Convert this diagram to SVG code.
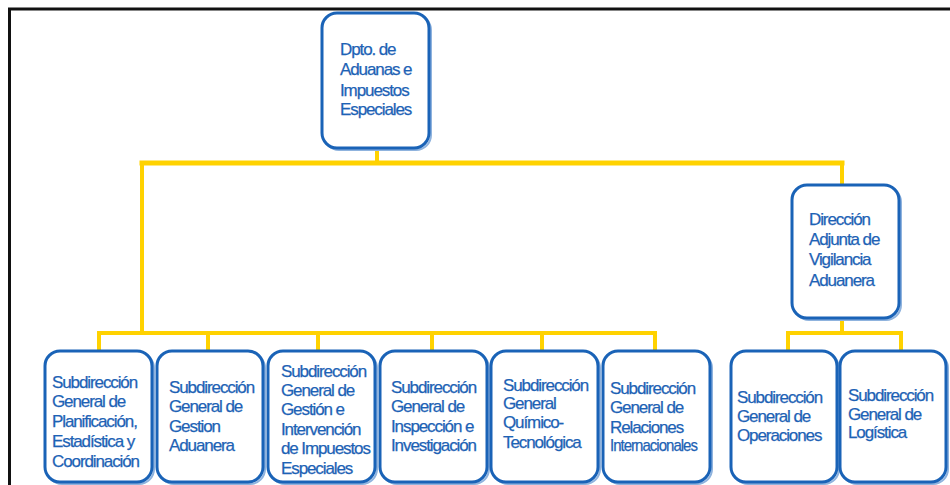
<svg xmlns="http://www.w3.org/2000/svg" width="950" height="485" viewBox="0 0 950 485">
<style>
.bg{fill:#ffffff}
.frame{stroke:#111111;stroke-width:3;fill:none}
.box{fill:#ffffff;stroke:#1a63b7;stroke-width:3}
.sh{fill:none;stroke:#8fb3de;stroke-width:2}
.conn{stroke:#ffd200;fill:none;stroke-linecap:square}
.t{font-family:"Liberation Sans",Arial,sans-serif;font-size:17px;fill:#1d62b5;stroke:#1d62b5;stroke-width:0.25;letter-spacing:-1.1px}
</style>
<rect class="bg" x="0" y="0" width="950" height="485"/>
<path class="frame" d="M9.5,485 V9 H950"/>
<g id="connectors">
<path class="conn" stroke-width="4" d="M377,148 V163"/>
<path class="conn" stroke-width="5" d="M142,163 H842"/>
<path class="conn" stroke-width="4" d="M842,163 V185"/>
<path class="conn" stroke-width="4" d="M142,163 V333"/>
<path class="conn" stroke-width="4" d="M99,333 H655"/>
<path class="conn" stroke-width="4" d="M99,333 V350 M208,333 V350 M318,333 V350 M432,333 V350 M542,333 V350 M655,333 V350"/>
<path class="conn" stroke-width="4" d="M842,318 V333 M788,333 H901 M788,333 V350 M901,333 V350"/>
</g>
<g id="n-dpto">
<rect class="sh" x="324" y="15" width="107" height="135" rx="15"/>
<rect class="box" x="322" y="13" width="107" height="135" rx="15"/>
<text class="t" x="340" y="55">Dpto. de</text>
<text class="t" x="340" y="75">Aduanas e</text>
<text class="t" x="340" y="96">Impuestos</text>
<text class="t" x="340" y="115">Especiales</text>
</g>
<g id="n-vigilancia">
<rect class="sh" x="794" y="187" width="107" height="133" rx="15"/>
<rect class="box" x="792" y="185" width="107" height="133" rx="15"/>
<text class="t" x="809" y="225">Dirección</text>
<text class="t" x="809" y="245">Adjunta de</text>
<text class="t" x="809" y="265">Vigilancia</text>
<text class="t" x="809" y="286">Aduanera</text>
</g>
<g id="n-planificacion">
<rect class="sh" x="47" y="353" width="107" height="131" rx="15"/>
<rect class="box" x="45" y="351" width="107" height="131" rx="15"/>
<text class="t" x="52" y="388">Subdirección</text>
<text class="t" x="52" y="407">General de</text>
<text class="t" x="52" y="427">Planificación,</text>
<text class="t" x="52" y="447">Estadística y</text>
<text class="t" x="52" y="467">Coordinación</text>
</g>
<g id="n-gestion-aduanera">
<rect class="sh" x="159" y="353" width="106" height="131" rx="15"/>
<rect class="box" x="157" y="351" width="106" height="131" rx="15"/>
<text class="t" x="169" y="393">Subdirección</text>
<text class="t" x="169" y="412">General  de</text>
<text class="t" x="169" y="432">Gestion</text>
<text class="t" x="169" y="451">Aduanera</text>
</g>
<g id="n-impuestos">
<rect class="sh" x="270" y="353" width="107" height="131" rx="15"/>
<rect class="box" x="268" y="351" width="107" height="131" rx="15"/>
<text class="t" x="281" y="377">Subdirección</text>
<text class="t" x="281" y="396">General de</text>
<text class="t" x="281" y="415">Gestión e</text>
<text class="t" x="281" y="435">Intervención</text>
<text class="t" x="281" y="454">de Impuestos</text>
<text class="t" x="281" y="474">Especiales</text>
</g>
<g id="n-inspeccion">
<rect class="sh" x="382" y="353" width="107" height="131" rx="15"/>
<rect class="box" x="380" y="351" width="107" height="131" rx="15"/>
<text class="t" x="391" y="393">Subdirección</text>
<text class="t" x="391" y="412">General  de</text>
<text class="t" x="391" y="432">Inspección e</text>
<text class="t" x="391" y="451">Investigación</text>
</g>
<g id="n-quimico">
<rect class="sh" x="493" y="353" width="107" height="131" rx="15"/>
<rect class="box" x="491" y="351" width="107" height="131" rx="15"/>
<text class="t" x="503" y="391">Subdirección</text>
<text class="t" x="503" y="409">General</text>
<text class="t" x="503" y="428">Químico-</text>
<text class="t" x="503" y="448">Tecnológica</text>
</g>
<g id="n-relaciones">
<rect class="sh" x="605" y="353" width="107" height="131" rx="15"/>
<rect class="box" x="603" y="351" width="107" height="131" rx="15"/>
<text class="t" x="610" y="394">Subdirección</text>
<text class="t" x="610" y="413">General  de</text>
<text class="t" x="610" y="433">Relaciones</text>
<text class="t" x="610" y="451" textLength="87" lengthAdjust="spacingAndGlyphs">Internacionales</text>
</g>
<g id="n-operaciones">
<rect class="sh" x="733" y="353" width="106" height="131" rx="15"/>
<rect class="box" x="731" y="351" width="106" height="131" rx="15"/>
<text class="t" x="737" y="403">Subdirección</text>
<text class="t" x="737" y="422">General de</text>
<text class="t" x="737" y="441">Operaciones</text>
</g>
<g id="n-logistica">
<rect class="sh" x="842" y="353" width="106" height="131" rx="15"/>
<rect class="box" x="840" y="351" width="106" height="131" rx="15"/>
<text class="t" x="848" y="401">Subdirección</text>
<text class="t" x="848" y="420">General de</text>
<text class="t" x="848" y="438">Logística</text>
</g>
</svg>
